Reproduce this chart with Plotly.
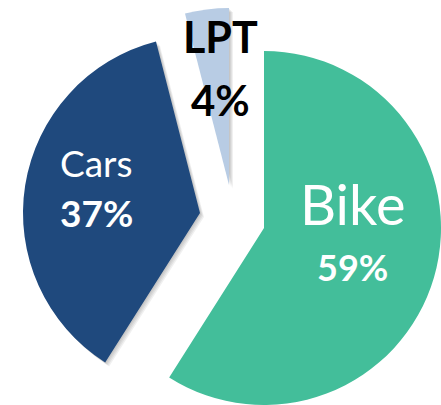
import plotly.graph_objects as go

# Data
labels = ["Bike", "Cars", "LPT"]
values = [59, 37, 4]
colors = ["#43BE9A", "#1F497D", "#B8CCE4"]

W, H = 441, 405
R = 177
# exploded slice apex positions (px, from top-left)
apex = {"Bike": (264, 228), "Cars": (200, 213), "LPT": (229, 185)}


def fits(cx, cy):
    return cx - R >= 0 and cx + R <= W and cy - R >= 0 and cy + R <= H


def pie_trace(i, cx, cy, color):
    cols = [color if j == i else "rgba(0,0,0,0)" for j in range(len(labels))]
    return go.Pie(
        labels=labels, values=values, sort=False, direction="clockwise", rotation=0,
        marker=dict(colors=cols, line=dict(width=0)),
        textinfo="none", hoverinfo="skip", showlegend=False,
        domain=dict(x=[(cx - R) / W, (cx + R) / W],
                    y=[(H - cy - R) / H, (H - cy + R) / H]),
    )


fig = go.Figure()
# soft drop shadows
for i, lab in enumerate(labels):
    cx, cy = apex[lab]
    for d in (4, 3, 2, 1):
        if fits(cx + d, cy + d):
            fig.add_trace(pie_trace(i, cx + d, cy + d, "rgba(0,0,0,0.06)"))
# slices
for i, lab in enumerate(labels):
    cx, cy = apex[lab]
    fig.add_trace(pie_trace(i, cx, cy, colors[i]))

# label styling/positions
lab_style = {
    "Bike": dict(x=352, y1=203, y2=267, c="white", s1=56, b1=False, s2=36),
    "Cars": dict(x=96, y1=162, y2=212, c="white", s1=37, b1=False, s2=37),
    "LPT": dict(x=220, y1=37, y2=100, c="black", s1=43, b1=True, s2=42),
}
for lab, v in zip(labels, values):
    st = lab_style[lab]
    t1 = f"<b>{lab}</b>" if st["b1"] else lab
    fig.add_annotation(x=st["x"] / W, y=1 - st["y1"] / H, xref="paper", yref="paper",
                       text=t1, showarrow=False, xanchor="center", yanchor="middle",
                       font=dict(family="Lato", size=st["s1"], color=st["c"]))
    fig.add_annotation(x=st["x"] / W, y=1 - st["y2"] / H, xref="paper", yref="paper",
                       text=f"<b>{v}%</b>", showarrow=False, xanchor="center", yanchor="middle",
                       font=dict(family="Lato", size=st["s2"], color=st["c"]))

fig.update_layout(width=W, height=H, margin=dict(l=0, r=0, t=0, b=0),
                  paper_bgcolor="white", plot_bgcolor="white", showlegend=False)
fig.write_html("out.html", config={"displayModeBar": False},
               post_script="document.body.style.margin='0';document.body.style.overflow='hidden';")
